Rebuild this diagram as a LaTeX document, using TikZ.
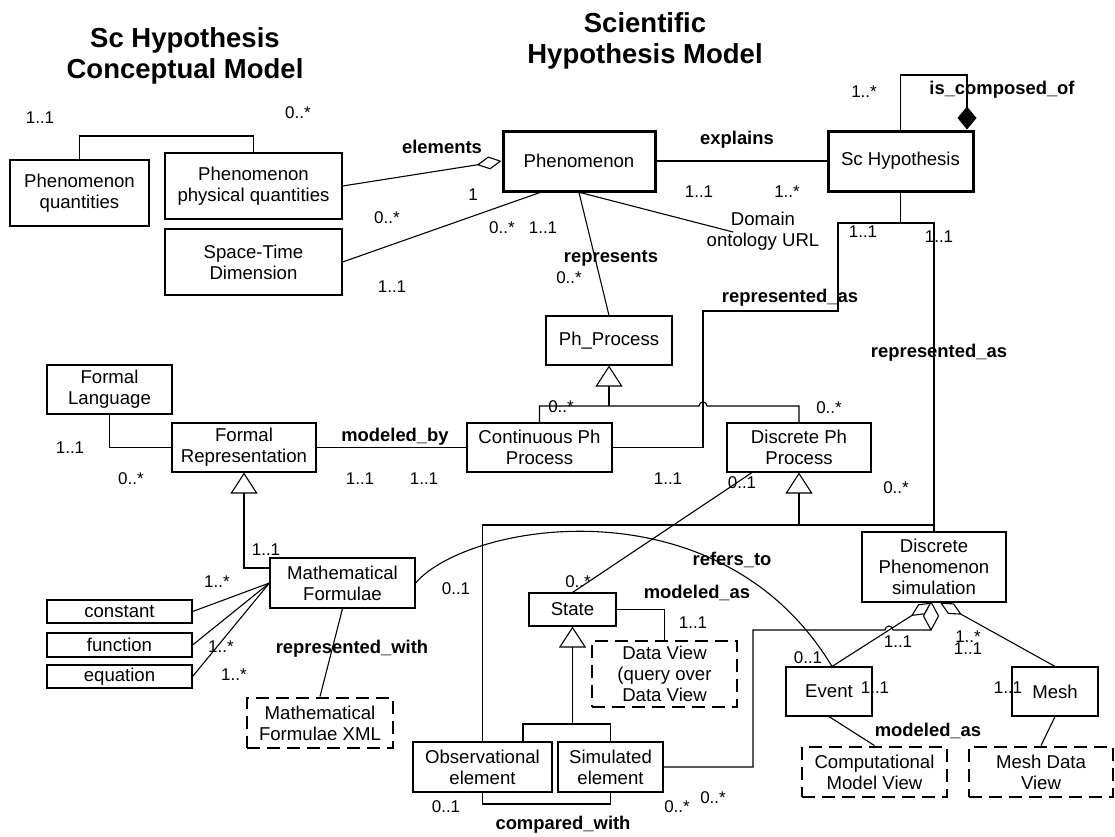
\documentclass[tikz,border=0pt]{standalone}
\usepackage{fontspec}
\setmainfont{Liberation Sans}
\usetikzlibrary{arrows.meta,calc}
\tikzset{
 box/.style={draw=black, line width=1.1pt, inner sep=0pt, align=center, font=\fontsize{18.6}{21}\selectfont},
 thickbox/.style={box, line width=3pt},
 dbox/.style={box, line width=2.8pt, dash pattern=on 13pt off 7pt},
 lbl/.style={inner sep=0pt, font=\fontsize{18.4}{21}\selectfont\bfseries},
 mult/.style={inner sep=0pt, font=\fontsize{17}{20}\selectfont},
 plain/.style={inner sep=0pt, align=center, font=\fontsize{18.6}{21}\selectfont},
 conn/.style={line width=1.1pt, draw=black},
 gen/.style={conn, -{Triangle[open, length=21pt, width=27pt]}},
 agg/.style={conn, -{Diamond[fill=white, length=25pt, width=13pt]}},
 comp/.style={conn, -{Diamond[length=23pt, width=19pt]}},
 ttl/.style={inner sep=0pt, align=center, font=\fontsize{27.5}{31}\selectfont\bfseries},
}
\begin{document}
\begin{tikzpicture}[x=1pt,y=-1pt]
\useasboundingbox[fill=white] (0,0) rectangle (1115,836);

% titles
\node[ttl] (t1) at (185,56) {Sc Hypothesis\\Conceptual Model};
\node[ttl] (t2) at (645,41) {Scientific\\Hypothesis Model};

% boxes
\node[box, minimum width=139, minimum height=66] (pq) at (79.5,193) {Phenomenon\\quantities};
\node[box, minimum width=177, minimum height=66] (ppq) at (253.5,186) {Phenomenon\\physical quantities};
\node[box, minimum width=177, minimum height=66] (std) at (253.5,262) {Space-Time\\Dimension};
\node[thickbox, minimum width=152, minimum height=60] (phen) at (579,161) {Phenomenon};
\node[thickbox, minimum width=145, minimum height=60] (sch) at (900.5,161) {Sc Hypothesis};
\node[box, minimum width=126, minimum height=49] (php) at (609,340.5) {Ph\_Process};
\node[box, minimum width=145, minimum height=49] (cpp) at (539.5,447.5) {Continuous Ph\\Process};
\node[box, minimum width=144, minimum height=49] (dpp) at (799,447.5) {Discrete Ph\\Process};
\node[box, minimum width=125, minimum height=49] (fl) at (109.5,389.5) {Formal\\Language};
\node[box, minimum width=144, minimum height=49] (fr) at (244,447.5) {Formal\\Representation};
\node[box, minimum width=145, minimum height=50] (mf) at (342.5,583) {Mathematical\\Formulae};
\node[box, minimum width=145, minimum height=23] (const) at (119.5,611.5) {constant};
\node[box, minimum width=145, minimum height=24] (func) at (119.5,645) {function};
\node[box, minimum width=145, minimum height=23] (eq) at (119.5,676.5) {equation};
\node[dbox, minimum width=146, minimum height=50] (mfx) at (320,723) {Mathematical\\Formulae XML};
\node[box, minimum width=87, minimum height=33] (state) at (572.5,609.5) {State};
\node[dbox, minimum width=145, minimum height=66] (dv) at (664.5,674) {Data View\\(query over\\Data View};
\node[box, minimum width=139, minimum height=50] (obs) at (482.5,767) {Observational\\element};
\node[box, minimum width=105, minimum height=50] (sim) at (610.5,767) {Simulated\\element};
\node[box, minimum width=144, minimum height=70] (dps) at (934,567) {Discrete\\Phenomenon\\simulation};
\node[box, minimum width=86, minimum height=49] (event) at (829,691.5) {Event};
\node[box, minimum width=86, minimum height=49] (mesh) at (1055,691.5) {Mesh};
\node[dbox, minimum width=145, minimum height=50] (cmv) at (874.5,772) {Computational\\Model View};
\node[dbox, minimum width=144, minimum height=50] (mdv) at (1041,772) {Mesh Data\\View};
\node[plain] (dom) at (763,231) {Domain\\ontology URL};
\coordinate (domend) at (733,232);

% connectors
\draw[conn] (pq.north) -- (79.5,136) -| (ppq.north);
\draw[agg] (ppq.east) -- (phen.west);
\draw[conn] (std.east) -- ([xshift=-39]phen.south);
\draw[conn] (phen.east) -- (sch.west);
\draw[conn] (phen.south) -- (php.north);
\draw[conn] ([xshift=1]phen.south) -- (domend);
\draw[comp] (sch.north) |- (967,75) -- ([xshift=66.5]sch.north);
\draw[conn] (sch.south) -- (900.5,223);
\draw[conn] (cpp.east) -- (703,447.5) -- (703,311) -- (838,311) -- (838,223) -- (934,223) -- (dps.north);
\draw[gen] (609,406) -- (php.south);
\draw[conn] (cpp.north) |- (699,406) arc[start angle=180, end angle=0, radius=4pt] -- (799,406) -- (dpp.north);
\draw[conn] (fl.south) |- (fr.west);
\draw[conn] (fr.east) -- (cpp.west);
\draw[gen] ([yshift=15]mf.west) -| (fr.south);
\draw[conn] (const.east) -- (mf.west);
\draw[conn] (func.east) -- (mf.west);
\draw[conn] (eq.east) -- (mf.west);
\draw[conn] (mf.south) -- (mfx.north);
\draw[conn] (mf.east) .. controls (468,522) and (720,480) .. ([xshift=3]event.north);
\draw[gen] (799,525) -- (dpp.south);
\draw[conn] (obs.north) |- (dps.north |- 0,525);
\draw[conn] ([xshift=-47]dpp.south) -- (state.north);
\draw[conn] (state.east) -| (dv.north);
\draw[gen] (572.5,724) -- (state.south);
\draw[conn] ([xshift=40.5]obs.north) |- (sim.north |- 0,724) -- (sim.north);
\draw[conn] (obs.south) -- (482.5,804) -| (sim.south);
\draw[conn] (event.south) -- (cmv.north);
\draw[conn] (mesh.south) -- (mdv.north);
\draw[agg, -{Diamond[fill=white, length=25pt, width=12pt]}] ([xshift=3]event.north) -- ([xshift=-2]dps.south);
\draw[agg, -{Diamond[fill=white, length=25pt, width=12pt]}] (mesh.north) -- ([xshift=6]dps.south);
\draw[conn] (sim.east) -| (753,630) -- (885,630) arc[start angle=180, end angle=0, radius=4pt] -- (931,630);
\coordinate (dtip) at (931,630);
\draw[conn, fill=white] (dtip) -- (938.5,616) -- (931,602) -- (923.5,616) -- cycle;

% labels
\node[lbl] (l1) at (442,147) {elements};
\node[lbl] (l2) at (737,140) {explains};
\node[lbl] (l3) at (611,258) {represents};
\node[lbl] (l4) at (1002,90) {is\_composed\_of};
\node[lbl] (l5) at (790,298) {represented\_as};
\node[lbl] (l6) at (939,353) {represented\_as};
\node[lbl] (l7) at (395,437) {modeled\_by};
\node[lbl] (l8) at (352,649) {represented\_with};
\node[lbl] (l9) at (732,560) {refers\_to};
\node[lbl] (l10) at (697,593) {modeled\_as};
\node[lbl] (l11) at (928,731) {modeled\_as};
\node[lbl] (l12) at (563,825) {compared\_with};

% multiplicities
\node[mult] (m1) at (40,118) {1..1};
\node[mult] (m2) at (298,113) {0..*};
\node[mult] (m3) at (473,195) {1};
\node[mult] (m4) at (387,218) {0..*};
\node[mult] (m5) at (502,228) {0..*};
\node[mult] (m6) at (543,228) {1..1};
\node[mult] (m7) at (392,287) {1..1};
\node[mult] (m8) at (699,192) {1..1};
\node[mult] (m9) at (787,192) {1..*};
\node[mult] (m10) at (569,278) {0..*};
\node[mult] (m11) at (864,92) {1..*};
\node[mult] (m12) at (863,232) {1..1};
\node[mult] (m13) at (939,237) {1..1};
\node[mult] (m14) at (561,407) {0..*};
\node[mult] (m15) at (829,408) {0..*};
\node[mult] (m16) at (896,488) {0..*};
\node[mult] (m17) at (70,448) {1..1};
\node[mult] (m18) at (131,479) {0..*};
\node[mult] (m19) at (360,479) {1..1};
\node[mult] (m20) at (424,479) {1..1};
\node[mult] (m21) at (668,479) {1..1};
\node[mult] (m22) at (742,483) {0..1};
\node[mult] (m23) at (266,550) {1..1};
\node[mult] (m24) at (217,582) {1..*};
\node[mult] (m25) at (221,647) {1..*};
\node[mult] (m26) at (234,675) {1..*};
\node[mult] (m27) at (456,589) {0..1};
\node[mult] (m28) at (578,582) {0..*};
\node[mult] (m29) at (693,623) {1..1};
\node[mult] (m30) at (808,658) {0..1};
\node[mult] (m31) at (898,642) {1..1};
\node[mult] (m32) at (968,637) {1..*};
\node[mult] (m33) at (968,649) {1..1};
\node[mult] (m34) at (875,688) {1..1};
\node[mult] (m35) at (1008,688) {1..1};
\node[mult] (m36) at (446,807) {0..1};
\node[mult] (m37) at (677,807) {0..*};
\node[mult] (m38) at (713,798) {0..*};
\end{tikzpicture}
\end{document}
